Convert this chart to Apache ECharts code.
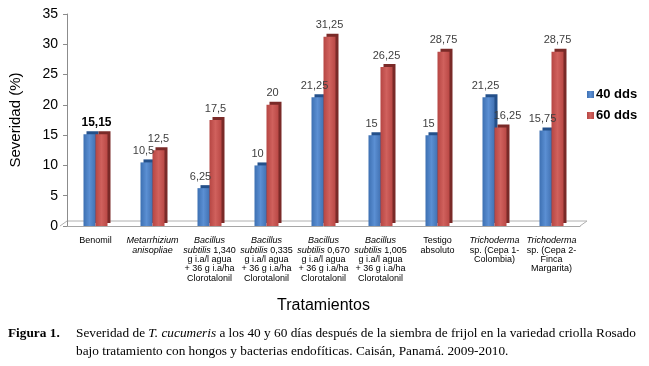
<!DOCTYPE html>
<html>
<head>
<meta charset="utf-8">
<script src="https://cdn.jsdelivr.net/npm/echarts@6/dist/echarts.min.js"></script>
<style>
  html, body { margin: 0; padding: 0; background: #fff; }
  #chart { width: 649px; height: 366px; }
</style>
</head>
<body>
<div id="chart"></div>
<script>
// categories (with italic markup for species names)
const categories = [
  'Benomil',
  '{i|Metarrhizium}\n{i|anisopliae}',
  '{i|Bacillus}\n{i|subtilis} 1,340\ng i.a/l agua\n+ 36 g i.a/ha\nClorotalonil',
  '{i|Bacillus}\n{i|subtilis} 0,335\ng i.a/l agua\n+ 36 g i.a/ha\nClorotalonil',
  '{i|Bacillus}\n{i|subtilis} 0,670\ng i.a/l agua\n+ 36 g i.a/ha\nClorotalonil',
  '{i|Bacillus}\n{i|subtilis} 1,005\ng i.a/l agua\n+ 36 g i.a/ha\nClorotalonil',
  'Testigo\nabsoluto',
  '{i|Trichoderma}\nsp. (Cepa 1-\nColombia)',
  '{i|Trichoderma}\nsp. (Cepa 2-\nFinca\nMargarita)'
]
const dds40 = [15.15, 10.5, 6.25, 10, 21.25, 15, 15, 21.25, 15.75]
const dds60 = [15.15, 12.5, 17.5, 20, 31.25, 26.25, 28.75, 16.25, 28.75]
const seriesNames = ['40 dds', '60 dds']
const yTicks = { min: 0, max: 35, interval: 5 }
const yTitle = 'Severidad (%)'
const xTitle = 'Tratamientos'
const captionHead = 'Figura 1.'
const captionLine1 = 'Severidad de {i|T. cucumeris} a los 40 y 60 días después de la siembra de frijol en la variedad criolla Rosado'
const captionLine2 = 'bajo tratamiento con hongos y bacterias endofíticas. Caisán, Panamá. 2009-2010.'

const sans = 'Liberation Sans, Arial, sans-serif'
const serif = 'Liberation Serif, Times New Roman, serif'
const capSize = 13.3

const fmt = v => String(v).replace('.', ',')

function grad(a, b, c) {
  return new echarts.graphic.LinearGradient(0, 0, 1, 0, [
    { offset: 0, color: a },
    { offset: 0.5, color: b },
    { offset: 1, color: c },
  ])
}

// Benomil has one shared label for both bars
const blueData = dds40.map((v, i) => i === 0 ? { value: v, label: { show: false } } : v)
const redData = dds60.map((v, i) => {
  if (i === 0) return { value: v, label: { fontWeight: 'bold', fontSize: 12, color: '#000', offset: [-5, 0] } }
  if (v < dds40[i]) return { value: v, label: { offset: [7, 0] } }
  return v
})

// grid box, used for the floor of the 3d look
const gLeft = 60, gRight = 69, gTop = 14, gBottom = 140
const W = 649, H = 366
const x0 = gLeft, x1 = W - gRight, y0 = H - gBottom

const chart = echarts.init(document.getElementById('chart'), null, { renderer: 'canvas' })

chart.setOption({
  animation: false,
  backgroundColor: '#fff',
  textStyle: { fontFamily: sans },
  grid: { left: gLeft, right: gRight, top: gTop, bottom: gBottom, containLabel: false },
  legend: {
    orient: 'vertical',
    left: 582,
    top: 83,
    icon: 'rect',
    itemWidth: 7,
    itemHeight: 7,
    itemGap: 8,
    textStyle: { fontSize: 13, fontWeight: 'bold', color: '#000', fontFamily: sans, padding: [0, 0, 0, -3] },
    data: seriesNames,
  },
  xAxis: {
    type: 'category',
    data: categories,
    name: xTitle,
    nameLocation: 'middle',
    nameGap: 72,
    nameTextStyle: { fontSize: 16, color: '#000', fontFamily: sans },
    axisLine: { lineStyle: { color: '#a6a6a6' } },
    axisTick: { show: false },
    axisLabel: {
      interval: 0,
      margin: 10,
      fontSize: 9,
      lineHeight: 9.4,
      color: '#000',
      fontFamily: sans,
      align: 'center',
      rich: {
        i: { fontStyle: 'italic', fontSize: 9, lineHeight: 9.4, color: '#000', fontFamily: sans, align: 'center' },
      },
    },
  },
  yAxis: {
    type: 'value',
    min: yTicks.min,
    max: yTicks.max,
    interval: yTicks.interval,
    name: yTitle,
    nameLocation: 'middle',
    nameGap: 44,
    nameTextStyle: { fontSize: 15, color: '#000', fontFamily: sans },
    axisLine: { show: true, lineStyle: { color: '#8c8c8c' } },
    axisTick: { show: true, length: 4, lineStyle: { color: '#8c8c8c' } },
    axisLabel: { fontSize: 14, color: '#000', margin: 9, fontFamily: sans },
    splitLine: { show: false },
  },
  series: [
    {
      name: seriesNames[0],
      type: 'bar',
      data: blueData,
      barWidth: 12,
      barGap: '0%',
      itemStyle: {
        color: grad('#3d70b2', '#5b8fd3', '#4272b3'),
        shadowColor: '#24508a',
        shadowOffsetX: 3,
        shadowOffsetY: -3,
        shadowBlur: 0,
      },
      label: { show: true, position: 'top', distance: 6, offset: [-3, 0], formatter: p => fmt(p.value), fontSize: 11, color: '#404040', fontFamily: sans },
    },
    {
      name: seriesNames[1],
      type: 'bar',
      data: redData,
      barWidth: 12,
      barGap: '0%',
      itemStyle: {
        color: grad('#b64643', '#d0615d', '#b94845'),
        shadowColor: '#7a2a28',
        shadowOffsetX: 3,
        shadowOffsetY: -3,
        shadowBlur: 0,
      },
      label: { show: true, position: 'top', distance: 6, formatter: p => fmt(p.value), fontSize: 11, color: '#404040', fontFamily: sans },
    },
  ],
  graphic: [
    // floor of the 3d plot area
    {
      type: 'polyline', silent: true, z: 0,
      shape: { points: [[x0, y0], [x0 + 7, y0 - 5], [x1 + 7, y0 - 5], [x1, y0]] },
      style: { stroke: '#b0b0b0', fill: null, lineWidth: 1 },
    },
    { type: 'text', left: 8, top: 327, style: { text: captionHead, font: 'bold ' + capSize + 'px ' + serif, fill: '#000' } },
    {
      type: 'text', left: 76, top: 327,
      style: { text: captionLine1, font: capSize + 'px ' + serif, fill: '#000', rich: { i: { fontStyle: 'italic', fontSize: capSize, fontFamily: serif } } },
    },
    { type: 'text', left: 76, top: 345, style: { text: captionLine2, font: capSize + 'px ' + serif, fill: '#000' } },
  ],
})
</script>
</body>
</html>
